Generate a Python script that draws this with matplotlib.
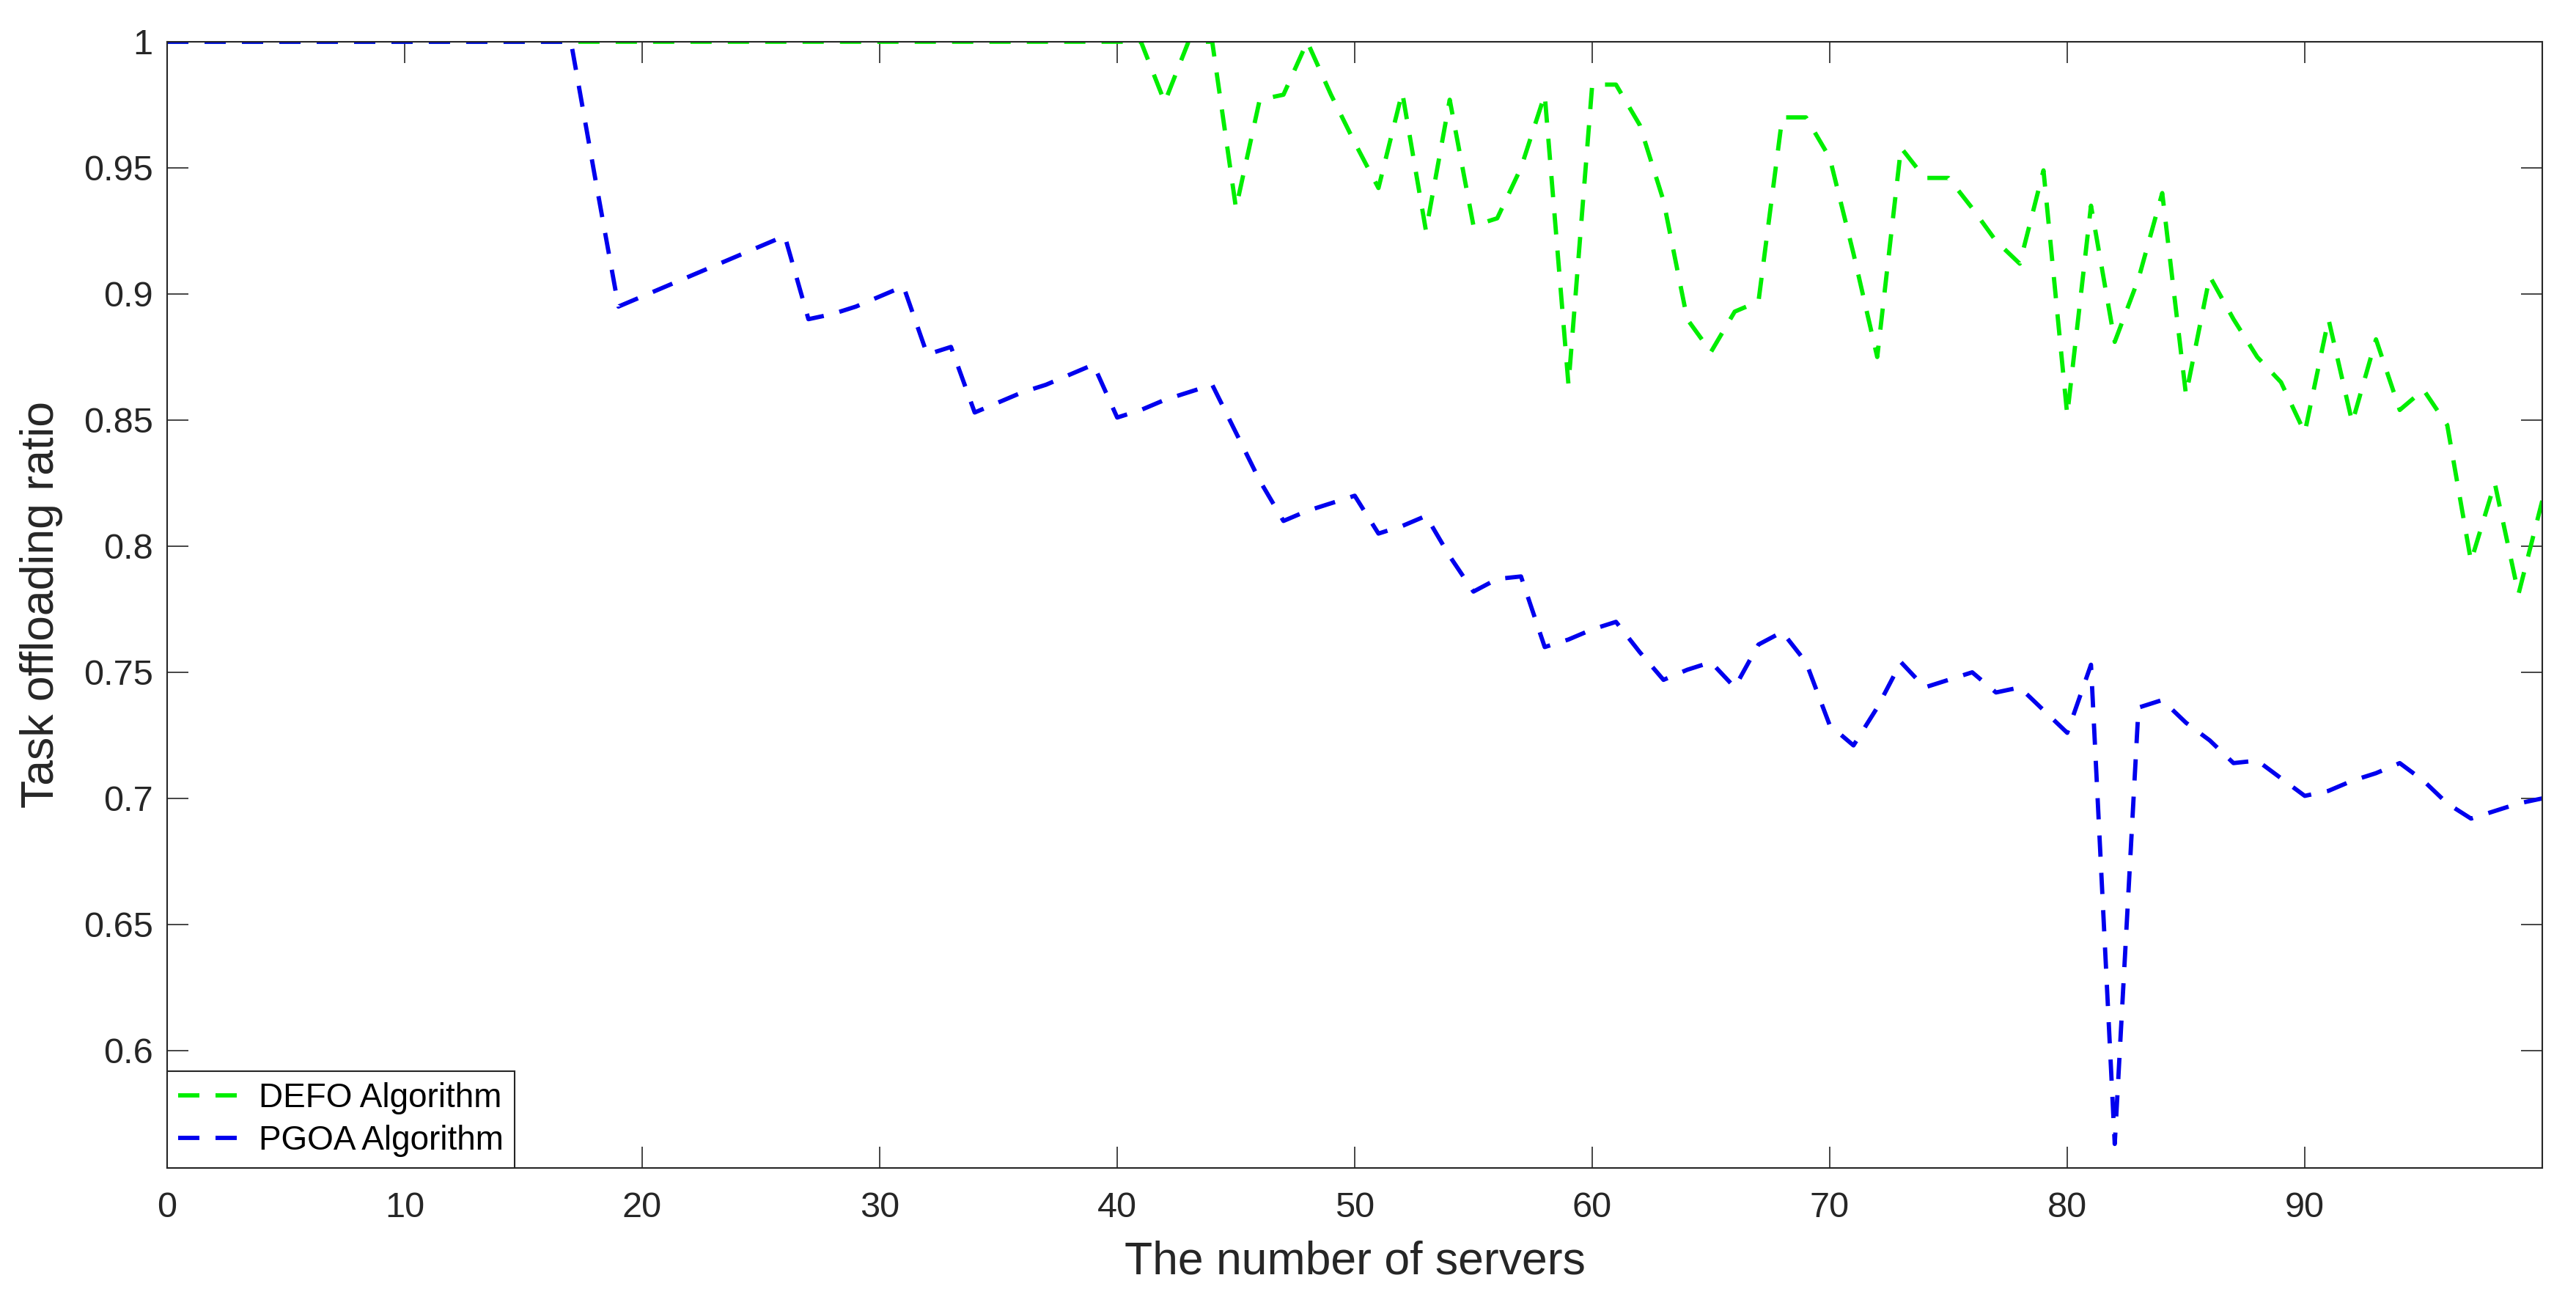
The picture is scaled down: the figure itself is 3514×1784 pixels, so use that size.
import numpy as np
import matplotlib
matplotlib.use('Agg')
import matplotlib.pyplot as plt
from matplotlib.ticker import FuncFormatter

plt.rcParams['font.family'] = ['Liberation Sans', 'DejaVu Sans']

# Numero de servidores (eje x) y ratio de descarga de cada algoritmo
servers = np.arange(0, 101)

defo = [1.0] * 42 + [
    0.976, 1.0, 1.0, 0.934, 0.977, 0.979, 1.0, 0.979, 0.960, 0.942,   # 42-51
    0.980, 0.925, 0.977, 0.927, 0.930, 0.950, 0.979, 0.864, 0.983, 0.983,  # 52-61
    0.967, 0.937, 0.890, 0.877, 0.893, 0.897, 0.970, 0.970, 0.954, 0.916,  # 62-71
    0.875, 0.958, 0.946, 0.946, 0.934, 0.921, 0.912, 0.949, 0.852, 0.935,  # 72-81
    0.881, 0.906, 0.940, 0.860, 0.907, 0.890, 0.875, 0.865, 0.845, 0.890,  # 82-91
    0.849, 0.882, 0.854, 0.862, 0.848, 0.794, 0.825, 0.781, 0.818,         # 92-100
]

pgoa = [1.0] * 18 + [
    0.947, 0.895, 0.899, 0.903, 0.907, 0.911, 0.915, 0.919, 0.923, 0.890,  # 18-27
    0.892, 0.895, 0.899, 0.903, 0.876, 0.879, 0.853, 0.857, 0.861, 0.864,  # 28-37
    0.868, 0.872, 0.851, 0.854, 0.858, 0.861, 0.864, 0.845, 0.826, 0.810,  # 38-47
    0.814, 0.817, 0.820, 0.805, 0.808, 0.812, 0.796, 0.782, 0.787, 0.788,  # 48-57
    0.760, 0.763, 0.767, 0.770, 0.758, 0.747, 0.751, 0.754, 0.744, 0.761,  # 58-67
    0.766, 0.754, 0.729, 0.721, 0.736, 0.754, 0.744, 0.747, 0.750, 0.742,  # 68-77
    0.744, 0.735, 0.726, 0.753, 0.563, 0.736, 0.739, 0.730, 0.723, 0.714,  # 78-87
    0.715, 0.708, 0.701, 0.703, 0.707, 0.710, 0.714, 0.707, 0.698, 0.692,  # 88-97
    0.695, 0.698, 0.700,                                                    # 98-100
]

labels = ['DEFO Algorithm', 'PGOA Algorithm']
x_ticks = list(range(0, 100, 10))
y_ticks = [0.6, 0.65, 0.7, 0.75, 0.8, 0.85, 0.9, 0.95, 1.0]

fig = plt.figure(figsize=(35.14, 17.84), dpi=100)
ax = fig.add_axes([0.0649, 0.1071, 0.9220, 0.8610])

dash = (0, (4.97, 3.77))
ax.plot(servers, defo, color='#00ee00', linestyle=dash, linewidth=4.2, label=labels[0])
ax.plot(servers, pgoa, color='#0000ee', linestyle=dash, linewidth=4.2, label=labels[1])

ax.set_xlim(0, 100)
ax.set_ylim(0.5535, 1.0)
ax.set_xticks(x_ticks)
ax.set_yticks(y_ticks)
ax.yaxis.set_major_formatter(FuncFormatter(lambda v, p: '%g' % v))

axis_color = '#262626'
for s in ax.spines.values():
    s.set_color(axis_color)
    s.set_linewidth(1.5)
ax.tick_params(direction='in', length=21, width=1.2, colors=axis_color,
               labelsize=35, top=True, right=True)
ax.tick_params(axis='x', pad=23)
ax.tick_params(axis='y', pad=14)

ax.set_xlabel('The number of servers', fontsize=45, color=axis_color)
ax.set_ylabel('Task offloading ratio', fontsize=45, color=axis_color)
ax.xaxis.set_label_coords(0.5, -0.064)
ax.yaxis.set_label_coords(-0.044, 0.5)

leg = ax.legend(loc='lower left', bbox_to_anchor=(0, 0), borderaxespad=0,
                fontsize=33, handlelength=2.15, handletextpad=0.25,
                labelspacing=0.3, borderpad=0.33, fancybox=False,
                framealpha=1, edgecolor=axis_color)
leg.get_frame().set_linewidth(1.5)

plt.savefig('out.png', dpi=100)
plt.close()
